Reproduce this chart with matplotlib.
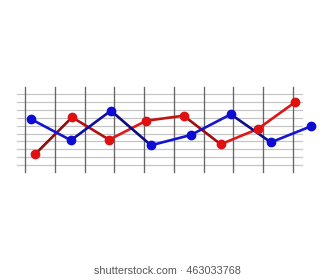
import numpy as np
import matplotlib
matplotlib.use('Agg')
import matplotlib.pyplot as plt

# data (x in grid-column units, y in grid-row units)
blue_x = [0.18, 1.53, 2.88, 4.23, 5.57, 6.92, 8.27, 9.62]
blue_y = [5.86, 3.15, 6.92, 2.51, 3.82, 6.46, 2.89, 4.93]
red_x = [0.32, 1.57, 2.82, 4.07, 5.33, 6.58, 7.83, 9.08]
red_y = [1.36, 6.08, 3.22, 5.64, 6.28, 2.64, 4.59, 7.99]

blue_seg_colors = ['#1414d2', '#10109a', '#0c0c82', '#1414d6', '#1616cc', '#0e0e84', '#1414d2']
red_seg_colors = ['#8e0c0c', '#b01212', '#e01818', '#c01414', '#a00f0f', '#e01818', '#dc1616']

v_lines = np.arange(10)
h_lines = np.arange(10)

fig = plt.figure(figsize=(3.34, 2.80), dpi=100)
ax = fig.add_axes([0, 0, 1, 1])
ax.set_xlim(-0.859, 10.398)
ax.set_ylim(-14.65, 21.02)
ax.axis('off')

# grid
for y in h_lines:
    ax.plot([-0.29, 9.32], [y, y], color='#c4c4c4', lw=0.85, zorder=1)
for x in v_lines:
    ax.plot([x, x], [-0.89, 9.94], color='#666666', lw=0.95, zorder=2)

# series, segment by segment
for xs, ys, cols, mc in [(red_x, red_y, red_seg_colors, '#e01010'),
                         (blue_x, blue_y, blue_seg_colors, '#0c0cd4')]:
    for i in range(len(xs) - 1):
        ax.plot(xs[i:i + 2], ys[i:i + 2], color=cols[i], lw=1.9,
                solid_capstyle='round', zorder=3)
    ax.plot(xs, ys, 'o', color=mc, ms=6.0, mec=mc, zorder=4)

fig.text(0.5, 1 - 271 / 280, 'shutterstock.com · 463033768', ha='center', va='center',
         fontsize=7.8, color='#555555', family=['Liberation Sans', 'DejaVu Sans'])

fig.savefig('out.png', dpi=100, facecolor='white')
